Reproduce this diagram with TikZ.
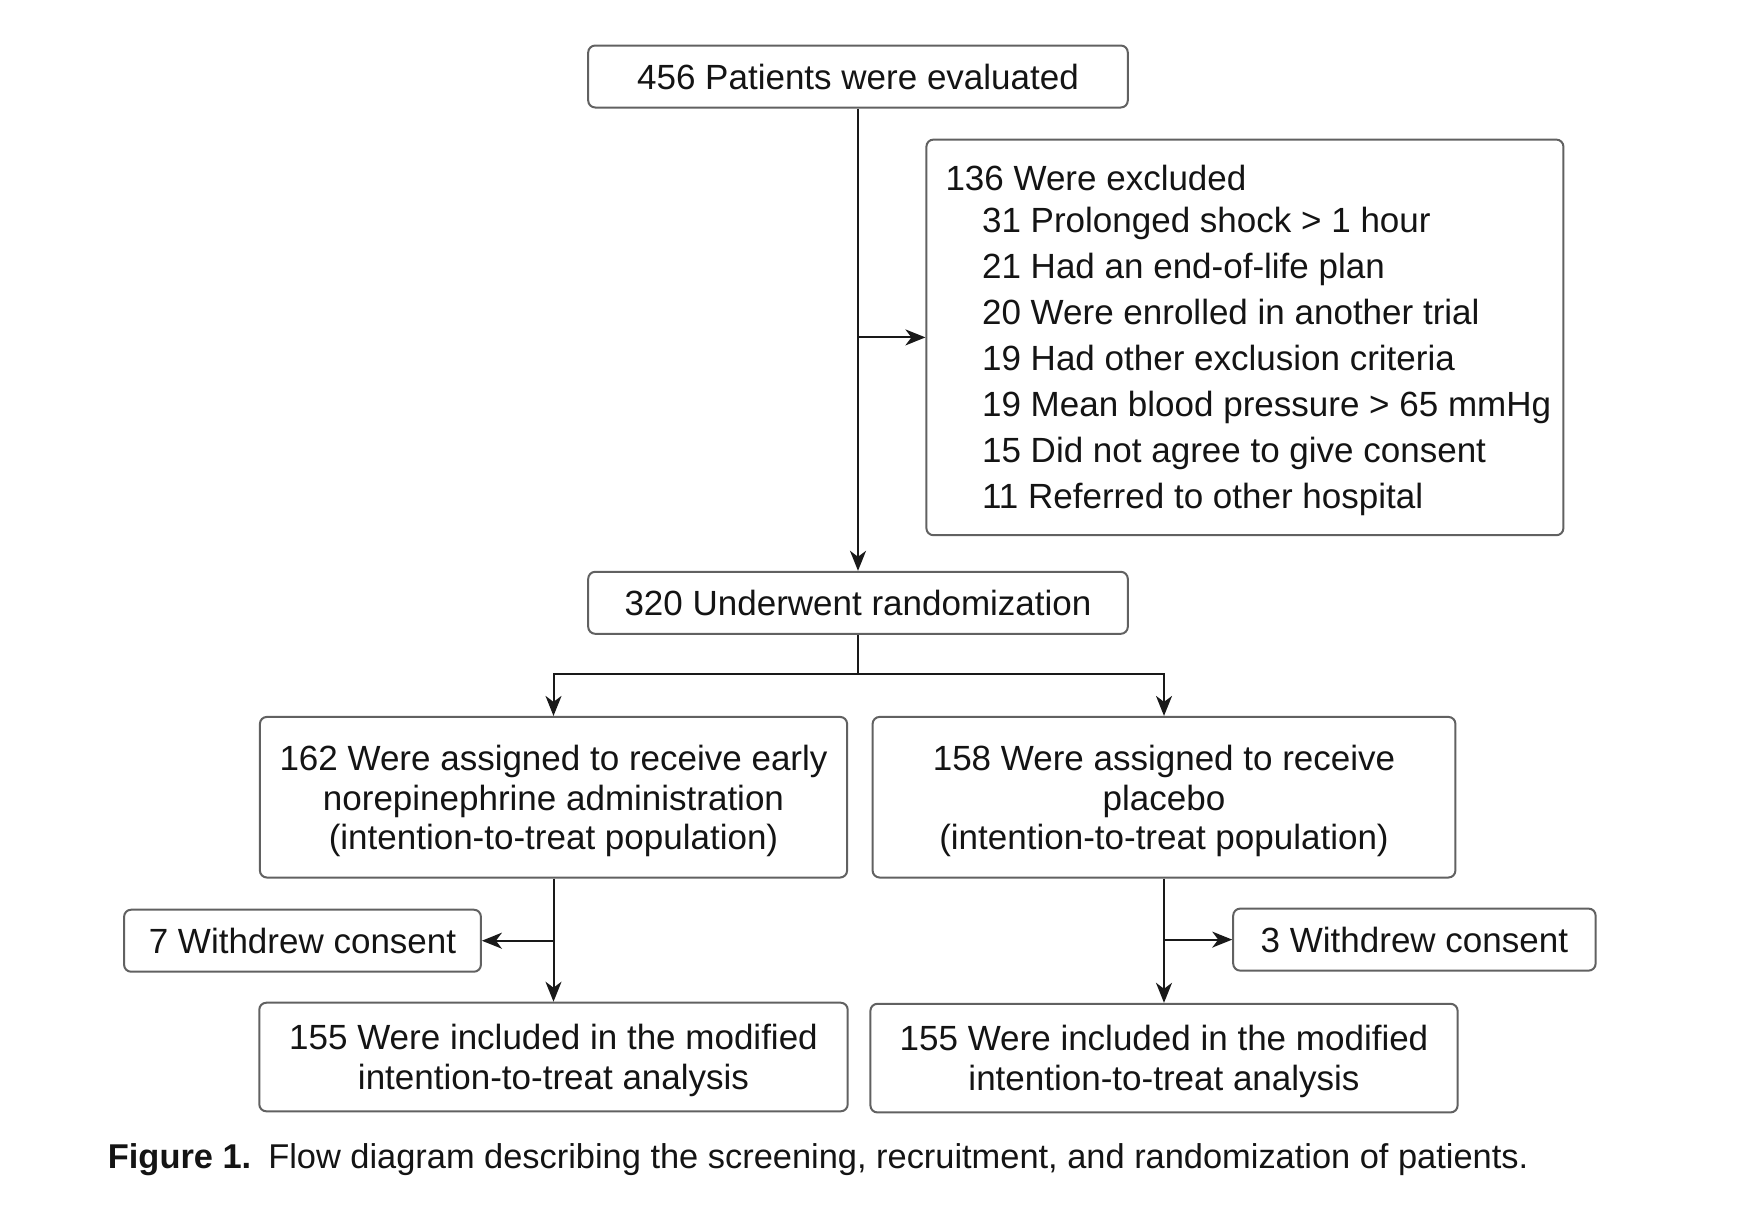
\documentclass[tikz,border=0pt]{standalone}
\usepackage{fontspec}
\setmainfont{Liberation Sans}
\usetikzlibrary{arrows.meta}
\newcommand{\topstrut}[1]{\rule{0pt}{#1}}
\begin{document}
\begin{tikzpicture}[x=0.5pt,y=-0.5pt]
\tikzset{
  box/.style={draw=black!62, line width=1pt, rounded corners=3.5pt, inner sep=0pt,
    align=center, text=black!92, font=\fontsize{17.5}{19.7}\selectfont},
  arr/.style={draw=black!90, line width=1pt, -{Stealth[length=10pt,width=8pt,inset=3pt]}},
  ln/.style={draw=black!90, line width=1pt}
}
\useasboundingbox[fill=white] (0,0) rectangle (1738,1216);

\node[box, minimum width=269.8pt, minimum height=31pt] (eval) at (858,76.5) {456 Patients were evaluated};

\node[box, minimum width=318.5pt, minimum height=197.8pt] (exc) at (1244.9,337.4) {};
\node[anchor=west, inner sep=0pt, align=left, text=black!92, font=\fontsize{17.5}{23}\selectfont] (exct) at (945.1,340.2)
  {136 Were excluded\\[-2pt]
   \hspace*{18.3pt}31 Prolonged shock > 1 hour\\
   \hspace*{18.3pt}21 Had an end-of-life plan\\
   \hspace*{18.3pt}20 Were enrolled in another trial\\
   \hspace*{18.3pt}19 Had other exclusion criteria\\
   \hspace*{18.3pt}19 Mean blood pressure > 65 mmHg\\
   \hspace*{18.3pt}15 Did not agree to give consent\\
   \hspace*{18.3pt}11 Referred to other hospital};

\node[box, minimum width=269.8pt, minimum height=31pt] (rand) at (858,602.8) {320 Underwent randomization};

\node[box, minimum width=293.6pt, minimum height=80.3pt] (nor) at (553.5,797.2)
  {\topstrut{16.7pt}162 Were assigned to receive early\\norepinephrine administration\\(intention-to-treat population)};
\node[box, minimum width=291.4pt, minimum height=80.3pt] (pla) at (1164,797.2)
  {\topstrut{16.7pt}158 Were assigned to receive\\placebo\\(intention-to-treat population)};

\node[box, minimum width=178.4pt, minimum height=31pt] (wl) at (302.5,940.7) {7 Withdrew consent};
\node[box, minimum width=181.2pt, minimum height=31pt] (wr) at (1414.4,939.6) {3 Withdrew consent};

\node[box, minimum width=294.2pt, minimum height=54.3pt] (il) at (553.5,1057)
  {\topstrut{16.2pt}155 Were included in the modified\\intention-to-treat analysis};
\node[box, minimum width=293.6pt, minimum height=54.3pt] (ir) at (1164,1058.1)
  {\topstrut{16.2pt}155 Were included in the modified\\intention-to-treat analysis};

\node[anchor=west, inner sep=0pt, text=black!92, font=\fontsize{17.2}{20}\selectfont] (cap) at (107.5,1160.1)
  {\textbf{Figure 1.}\hspace{8.5pt}Flow diagram describing the screening, recruitment, and randomization of patients.};

% connectors
\draw[arr] (eval.south) -- (rand.north);
\coordinate (j1) at (eval.south |- exc.west);
\draw[arr] (j1) -- (exc.west);

\coordinate (split) at (858,673.7);
\draw[ln] (rand.south) -- (split);
\draw[arr] (split) -| (nor.north);
\draw[arr] (split) -| (pla.north);

\draw[arr] (nor.south) -- (il.north);
\coordinate (j2) at (nor.south |- wl.east);
\draw[arr] (j2) -- (wl.east);

\draw[arr] (pla.south) -- (ir.north);
\coordinate (j3) at (pla.south |- wr.west);
\draw[arr] (j3) -- (wr.west);
\end{tikzpicture}
\end{document}
